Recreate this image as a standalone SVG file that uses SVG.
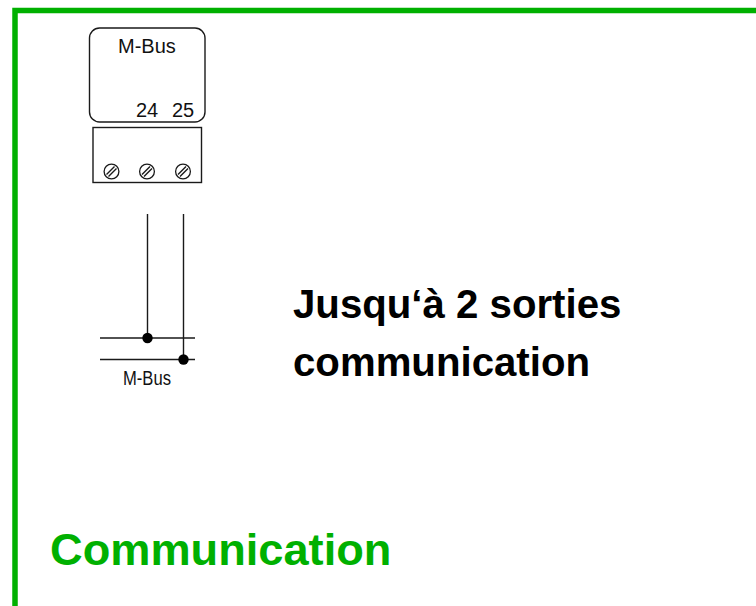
<svg xmlns="http://www.w3.org/2000/svg" width="756" height="606" viewBox="0 0 756 606">
<style>
text{font-family:"Liberation Sans",Arial,sans-serif}
.l{fill:none;stroke:#1a1a1a;stroke-width:1.4}
.d{fill:#000;stroke:none}
.t{font-size:20px;fill:#111}
.h{font-size:40.200px;font-weight:bold;fill:#000}
</style>
<defs>
<g id="screw"><circle r="7.400" fill="#fff" stroke="#1a1a1a" stroke-width="1.300"/><path d="M-5 3L3-5M-3 5L5-3" class="l"/></g>
</defs>
<rect width="756" height="606" fill="#fff"/>
<g id="frame"><path d="M15 606V10.500H756" fill="none" stroke="#00b000" stroke-width="5.500"/></g>
<g id="module">
<rect x="89.500" y="28" width="115.500" height="94" rx="10" class="l"/>
<text x="118" y="53" class="t">M-Bus</text>
<text x="136" y="116.500" class="t">24</text>
<text x="172" y="116.500" class="t">25</text>
</g>
<g id="terminal">
<rect x="93" y="127.500" width="108.500" height="55" class="l"/>
<use href="#screw" x="111.500" y="171.500"/>
<use href="#screw" x="147" y="171.500"/>
<use href="#screw" x="183" y="171.500"/>
</g>
<g id="connectors">
<path d="M147.500 214V338M183.500 214V359.500M100 338H195M100 359.500H195" class="l"/>
<circle cx="147.500" cy="338" r="5.200" class="d"/>
<circle cx="183.500" cy="359.500" r="5.200" class="d"/>
</g>
<g id="bus-label"><text x="123" y="385" font-size="20" fill="#111" textLength="48" lengthAdjust="spacingAndGlyphs">M-Bus</text></g>
<g id="caption">
<text x="293" y="318" class="h">Jusqu‘à 2 sorties</text>
<text x="293" y="376" class="h">communication</text>
</g>
<g id="title"><text x="50" y="565" font-size="45.200" font-weight="bold" fill="#00b000">Communication</text></g>
</svg>
